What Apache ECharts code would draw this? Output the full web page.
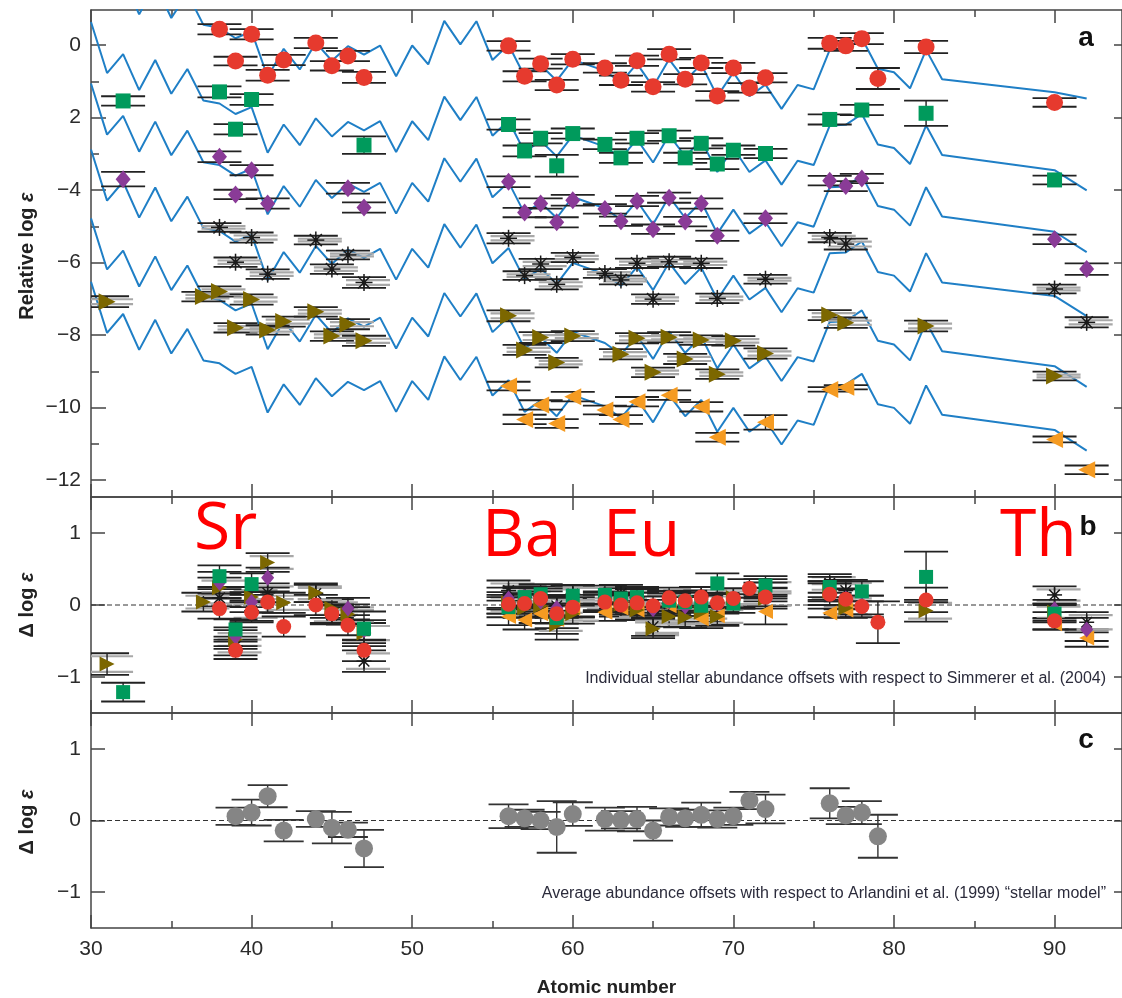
<!DOCTYPE html>
<html><head><meta charset="utf-8">
<script src="https://cdn.jsdelivr.net/npm/echarts@6/dist/echarts.min.js"></script>
<style>html,body{margin:0;padding:0;background:#fff}#c{width:1122px;height:998px}</style>
</head><body><div id="c"></div><script>
// ---------- tick values ----------
const zMajor = [30,40,50,60,70,80,90];
const zMinor = [35,45,55,65,75,85];
const aMajor = [0,-2,-4,-6,-8,-10,-12];
const aMinor = [-1,-3,-5,-7,-9,-11];
const bcMajor = [-1,0,1];

// ---------- scaled solar r-process pattern (panel a lines) ----------
const patternZ   = [30,31,32,33,34,35,36,37,38,39,40,41,42,43,44,45,46,47,48,49,50,51,52,53,54,55,56,57,58,59,60,62,63,64,65,66,67,68,69,70,71,72,73,74,75,76,77,78,79,80,81,82,83];
const patternVal = [0.64,-0.77,-0.25,-1.24,-0.41,-1.34,-0.66,-1.53,-1.61,-1.90,-1.71,-2.97,-2.19,-2.76,-2.02,-2.52,-2.12,-2.35,-2.10,-2.95,-2.10,-2.62,-1.42,-2.07,-1.43,-2.50,-2.08,-2.95,-2.64,-3.07,-2.49,-2.80,-3.12,-2.60,-3.24,-2.48,-3.07,-2.62,-3.50,-2.84,-3.50,-3.18,-3.85,-3.19,-3.31,-2.22,-2.20,-1.90,-2.74,-2.84,-3.28,-2.22,-3.03];
const lineOffsets = [2.09, 0, -1.70, -3.52, -5.42, -7.17];
const thuZ = [90, 92];
const lineThU = [[-1.30,-1.47],[-3.45,-4.01],[-5.15,-5.71],[-6.92,-7.48],[-8.86,-9.43],[-10.62,-11.19]];

// ---------- panel a: [Z, relative log eps, error] ----------
const starRed = [[38,0.44,0.14],[39,-0.44,0.12],[40,0.30,0.14],[41,-0.83,0.15],[42,-0.41,0.14],[44,0.06,0.14],[45,-0.57,0.13],[46,-0.30,0.14],[47,-0.89,0.15],[56,-0.02,0.13],[57,-0.86,0.14],[58,-0.51,0.14],[59,-1.10,0.14],[60,-0.39,0.14],[62,-0.63,0.13],[63,-0.97,0.13],[64,-0.43,0.14],[65,-1.15,0.13],[66,-0.25,0.14],[67,-0.94,0.14],[68,-0.49,0.14],[69,-1.40,0.13],[70,-0.63,0.14],[71,-1.18,0.13],[72,-0.90,0.13],[76,0.05,0.15],[77,-0.02,0.14],[78,0.18,0.15],[79,-0.92,0.29],[82,-0.05,0.17],[90,-1.58,0.12]];
const starGreen = [[32,-1.54,0.13],[38,-1.29,0.15],[39,-2.32,0.14],[40,-1.50,0.15],[47,-2.76,0.24],[56,-2.19,0.14],[57,-2.92,0.15],[58,-2.57,0.14],[59,-3.33,0.30],[60,-2.44,0.14],[62,-2.74,0.13],[63,-3.11,0.14],[64,-2.57,0.14],[66,-2.50,0.14],[67,-3.11,0.14],[68,-2.71,0.14],[69,-3.28,0.14],[70,-2.90,0.13],[72,-2.99,0.13],[76,-2.05,0.14],[78,-1.79,0.14],[82,-1.88,0.35],[90,-3.72,0.12]];
const starPurple = [[32,-3.70,0.20],[38,-3.08,0.15],[39,-4.12,0.13],[40,-3.45,0.14],[41,-4.37,0.14],[46,-3.95,0.15],[47,-4.48,0.14],[56,-3.77,0.15],[57,-4.62,0.13],[58,-4.37,0.14],[59,-4.89,0.14],[60,-4.28,0.15],[62,-4.52,0.13],[63,-4.86,0.13],[64,-4.30,0.14],[65,-5.08,0.13],[66,-4.21,0.14],[67,-4.87,0.13],[68,-4.37,0.14],[69,-5.26,0.14],[72,-4.78,0.13],[76,-3.74,0.13],[77,-3.89,0.14],[78,-3.68,0.13],[90,-5.36,0.13],[92,-6.18,0.16]];
const starStar = [[38,-5.03,0.12],[39,-5.99,0.13],[40,-5.31,0.14],[41,-6.32,0.13],[44,-5.38,0.12],[45,-6.18,0.13],[46,-5.79,0.12],[47,-6.55,0.15],[56,-5.33,0.14],[57,-6.36,0.12],[58,-6.04,0.14],[59,-6.60,0.14],[60,-5.86,0.13],[62,-6.30,0.12],[63,-6.48,0.12],[64,-6.02,0.13],[65,-7.01,0.13],[66,-5.98,0.14],[68,-6.02,0.13],[69,-6.99,0.13],[72,-6.46,0.12],[76,-5.31,0.13],[77,-5.49,0.15],[90,-6.73,0.12],[92,-7.65,0.14]];
const starOlive = [[31,-7.08,0.15],[37,-6.94,0.13],[38,-6.80,0.14],[39,-7.80,0.13],[40,-7.02,0.14],[41,-7.86,0.13],[42,-7.63,0.14],[44,-7.36,0.13],[45,-8.03,0.13],[46,-7.70,0.14],[47,-8.16,0.14],[56,-7.47,0.15],[57,-8.41,0.14],[58,-8.07,0.15],[59,-8.76,0.13],[60,-8.03,0.14],[63,-8.53,0.14],[64,-8.09,0.14],[65,-9.03,0.13],[66,-8.06,0.14],[67,-8.66,0.14],[68,-8.14,0.13],[69,-9.08,0.13],[70,-8.16,0.13],[72,-8.51,0.14],[76,-7.45,0.14],[77,-7.66,0.14],[82,-7.75,0.15],[90,-9.13,0.12]];
const starOrange = [[56,-9.41,0.12],[57,-10.33,0.13],[58,-9.93,0.13],[59,-10.44,0.12],[60,-9.70,0.13],[62,-10.07,0.12],[63,-10.33,0.12],[64,-9.84,0.13],[66,-9.66,0.13],[68,-9.98,0.13],[69,-10.82,0.12],[72,-10.41,0.20],[76,-9.50,0.06],[77,-9.44,0.06],[90,-10.88,0.08],[92,-11.72,0.12]];

// ---------- panel b: [Z, delta log eps, error] ----------
const offRed = [[38,-0.05,0.14],[39,-0.63,0.12],[40,-0.10,0.14],[41,0.04,0.15],[42,-0.30,0.14],[44,0.00,0.14],[45,-0.12,0.13],[46,-0.28,0.14],[47,-0.63,0.15],[56,0.01,0.13],[57,0.02,0.14],[58,0.09,0.14],[59,-0.12,0.14],[60,-0.03,0.14],[62,0.04,0.13],[63,0.00,0.13],[64,0.03,0.14],[65,-0.01,0.13],[66,0.10,0.14],[67,0.06,0.14],[68,0.11,0.14],[69,0.03,0.13],[70,0.09,0.14],[71,0.23,0.13],[72,0.11,0.13],[76,0.15,0.15],[77,0.08,0.14],[78,-0.02,0.15],[79,-0.24,0.29],[82,0.07,0.17],[90,-0.22,0.12]];
const offGreen = [[32,-1.21,0.13],[38,0.40,0.15],[39,-0.34,0.14],[40,0.29,0.15],[47,-0.33,0.24],[56,-0.03,0.14],[57,0.11,0.15],[58,0.15,0.14],[59,-0.18,0.30],[60,0.13,0.14],[62,0.14,0.13],[63,0.09,0.14],[64,0.11,0.14],[66,0.06,0.14],[67,0.04,0.14],[68,-0.01,0.14],[69,0.30,0.14],[70,0.02,0.13],[72,0.27,0.13],[76,0.25,0.14],[78,0.19,0.14],[82,0.39,0.35],[90,-0.12,0.12]];
const offPurple = [[38,0.31,0.15],[39,-0.44,0.13],[40,0.04,0.14],[41,0.38,0.14],[46,-0.05,0.15],[47,-0.35,0.14],[56,0.09,0.15],[57,0.11,0.13],[58,0.05,0.14],[59,-0.04,0.14],[60,-0.01,0.15],[62,0.06,0.13],[63,0.04,0.13],[64,0.08,0.14],[65,-0.06,0.13],[66,0.05,0.14],[67,-0.02,0.13],[68,0.03,0.14],[69,0.02,0.14],[72,0.18,0.13],[76,0.20,0.13],[77,0.09,0.14],[78,0.00,0.13],[90,-0.06,0.13],[92,-0.34,0.16]];
const offStar = [[38,0.10,0.12],[39,-0.57,0.13],[40,-0.08,0.14],[41,0.17,0.13],[44,0.16,0.12],[45,-0.14,0.13],[46,-0.15,0.12],[47,-0.78,0.15],[56,0.20,0.14],[57,0.11,0.12],[58,0.12,0.14],[59,-0.01,0.14],[60,0.15,0.13],[62,0.02,0.12],[63,0.16,0.12],[64,0.10,0.13],[65,-0.30,0.13],[66,0.02,0.14],[68,0.12,0.13],[69,0.03,0.13],[72,0.24,0.12],[76,0.30,0.13],[77,0.20,0.15],[90,0.14,0.12],[92,-0.24,0.14]];
const offOlive = [[31,-0.82,0.15],[37,0.04,0.13],[38,0.24,0.14],[39,-0.48,0.13],[40,0.11,0.14],[41,0.59,0.13],[42,0.03,0.14],[44,0.17,0.13],[45,-0.05,0.13],[46,-0.13,0.14],[47,-0.39,0.14],[56,0.03,0.15],[57,-0.04,0.14],[58,-0.01,0.15],[59,-0.27,0.13],[60,-0.12,0.14],[63,0.01,0.14],[64,-0.07,0.14],[65,-0.33,0.13],[66,-0.16,0.14],[67,-0.17,0.14],[68,-0.10,0.13],[69,-0.16,0.13],[70,0.10,0.13],[72,0.09,0.14],[76,0.19,0.14],[77,-0.04,0.14],[82,-0.08,0.15],[90,-0.10,0.12]];
const offOrange = [[56,-0.16,0.12],[57,-0.21,0.13],[58,-0.12,0.13],[59,-0.20,0.12],[60,-0.04,0.13],[62,-0.10,0.12],[63,-0.04,0.12],[64,-0.07,0.13],[66,-0.01,0.13],[68,-0.19,0.13],[69,-0.15,0.12],[72,-0.09,0.18],[76,-0.11,0.06],[77,-0.07,0.06],[90,-0.26,0.08],[92,-0.46,0.12]];

// ---------- panel c: [Z, average delta, error] ----------
const avgOffsets = [[39,0.06,0.12],[40,0.11,0.18],[41,0.34,0.155],[42,-0.14,0.15],[44,0.02,0.11],[45,-0.10,0.22],[46,-0.13,0.10],[47,-0.39,0.26],[56,0.06,0.165],[57,0.03,0.12],[58,0.00,0.12],[59,-0.09,0.36],[60,0.09,0.165],[62,0.02,0.16],[63,0.01,0.12],[64,0.02,0.17],[65,-0.14,0.14],[66,0.05,0.12],[67,0.03,0.12],[68,0.08,0.17],[69,0.02,0.12],[70,0.06,0.12],[71,0.28,0.12],[72,0.16,0.20],[76,0.24,0.21],[77,0.07,0.12],[78,0.11,0.16],[79,-0.22,0.30]];

// ---------- styling ----------
const X_MIN = 30, X_MAX = 94.2;
const FONT = 'Liberation Sans';
const AX = '#444';
const BLUE = '#1f7fc6';
const stars = [
  {a: starRed,    b: offRed,    color:'#e63a2e', symbol:'circle', sa:17, sb:15},
  {a: starGreen,  b: offGreen,  color:'#009a5c', symbol:'rect', sa:15, sb:14},
  {a: starPurple, b: offPurple, color:'#8a3b97', symbol:'diamond', sa:[15,18], sb:[13,16]},
  {a: starStar,   b: offStar,   color:'#1a1a1a', symbol:'asterisk', sa:17, sb:15, gray:true},
  {a: starOlive,  b: offOlive,  color:'#7c6700', symbol:'path://M0,0L10,5L0,10Z', sa:17, sb:15, gray:true},
  {a: starOrange, b: offOrange, color:'#f59b22', symbol:'path://M10,0L0,5L10,10Z', sa:17, sb:15}
];

const grids = [
  {left:91, top:10, width:1033, height:487},
  {left:91, top:497, width:1033, height:216},
  {left:91, top:713, width:1033, height:216}
];
const yRanges = [[-12.47,0.97],[-1.5,1.5],[-1.5,1.5]];

const xAxes = [], yAxes = [];
function xAx(gi, pos, vals, len, line, labels) {
  return {type:'value', gridIndex:gi, position:pos, min:X_MIN, max:X_MAX,
    axisLine:{show:line, onZero:false, lineStyle:{color:AX, width:1.5}},
    axisTick:{show:true, inside:true, length:len, customValues:vals, lineStyle:{color:AX, width:1.5}},
    axisLabel: labels ? {show:true, customValues:vals, margin:11, fontSize:21, fontFamily:FONT, color:'#2a2a2a'} : {show:false},
    splitLine:{show:false}};
}
function yAx(gi, pos, vals, len, line, labels, fmt) {
  return {type:'value', gridIndex:gi, position:pos, min:yRanges[gi][0], max:yRanges[gi][1],
    axisLine:{show:line, onZero:false, lineStyle:{color:AX, width:1.5}},
    axisTick:{show: vals.length>0, inside:true, length:len, customValues:vals, lineStyle:{color:AX, width:1.5}},
    axisLabel: labels ? {show:true, customValues:vals, margin:10, fontSize:21, fontFamily:FONT, color:'#2a2a2a', formatter:fmt} : {show:false},
    splitLine:{show:false}};
}
const fmtA = v => v === 0 ? '0' : (v === -2 ? '2' : '\u2212' + Math.abs(v));
const fmtB = v => v < 0 ? '\u2212' + Math.abs(v) : String(v);
for (let gi = 0; gi < 3; gi++) {
  xAxes.push(xAx(gi,'bottom',zMajor,13,true,gi===2));
  xAxes.push(xAx(gi,'bottom',zMinor,7,false,false));
  xAxes.push(xAx(gi,'top',zMajor,13,true,false));
  xAxes.push(xAx(gi,'top',zMinor,7,false,false));
  if (gi === 0) {
    yAxes.push(yAx(0,'left',aMajor,15,true,true,fmtA));
    yAxes.push(yAx(0,'left',aMinor,8,false,false));
    yAxes.push(yAx(0,'right',aMajor,8,true,false));
  } else {
    yAxes.push(yAx(gi,'left',bcMajor,14,true,true,fmtB));
    yAxes.push(yAx(gi,'left',[],8,false,false));
    yAxes.push(yAx(gi,'right',bcMajor,8,true,false));
  }
}
xAxes[8].name = 'Atomic number';
xAxes[8].nameLocation = 'middle';
xAxes[8].nameGap = 50;
xAxes[8].nameTextStyle = {fontSize:19, fontWeight:'bold', fontFamily:FONT, color:'#222'};

function errSeries(data, gi, capHalf, color, gray, z) {
  return {type:'custom', xAxisIndex:gi*4, yAxisIndex:gi*3, data:data, clip:true, z:z, silent:true,
    encode:{x:0, y:1},
    renderItem:function(params, api){
      const x = api.value(0), y = api.value(1), e = api.value(2);
      const c = api.coord([x,y]), t = api.coord([x,y+e]), b = api.coord([x,y-e]);
      const ch = [];
      if (gray) {
        const s = {stroke:'#a8a8a8', lineWidth:2.2};
        ch.push({type:'line', shape:{x1:c[0]-capHalf+4, y1:t[1]+3, x2:c[0]+capHalf+4, y2:t[1]+3}, style:s});
        ch.push({type:'line', shape:{x1:c[0]-capHalf+4, y1:b[1]-3, x2:c[0]+capHalf+4, y2:b[1]-3}, style:s});
      }
      const k = {stroke:color, lineWidth:1.8};
      ch.push({type:'line', shape:{x1:c[0], y1:t[1], x2:c[0], y2:b[1]}, style:{stroke:color, lineWidth:1.4}});
      ch.push({type:'line', shape:{x1:c[0]-capHalf, y1:t[1], x2:c[0]+capHalf, y2:t[1]}, style:k});
      ch.push({type:'line', shape:{x1:c[0]-capHalf, y1:b[1], x2:c[0]+capHalf, y2:b[1]}, style:k});
      return {type:'group', children:ch};
    }};
}
function asteriskSeries(data, gi, r, z) {
  return {type:'custom', xAxisIndex:gi*4, yAxisIndex:gi*3, data:data, clip:true, z:z, silent:true,
    encode:{x:0, y:1},
    renderItem:function(params, api){
      const c = api.coord([api.value(0), api.value(1)]);
      const ch = [];
      const d = r*0.7071;
      const segs = [[r,0],[0,r],[d,d],[d,-d]];
      segs.forEach(function(s){
        ch.push({type:'line', shape:{x1:c[0]-s[0], y1:c[1]-s[1], x2:c[0]+s[0], y2:c[1]+s[1]}, style:{stroke:'#1a1a1a', lineWidth:1.5}});
      });
      ch.push({type:'circle', shape:{cx:c[0], cy:c[1], r:2.2}, style:{fill:'#1a1a1a'}});
      return {type:'group', children:ch};
    }};
}
function markerSeries(data, gi, st, size, z) {
  if (st.symbol === 'asterisk') return asteriskSeries(data, gi, size/2, z);
  return {type:'scatter', xAxisIndex:gi*4, yAxisIndex:gi*3, data:data, symbol:st.symbol, symbolSize:size,
    symbolKeepAspect:true, itemStyle:{color:st.color, opacity:1}, z:z, silent:true, clip:true};
}

const series = [];
// panel a: model lines
lineOffsets.forEach(function(off, k){
  const pts = patternZ.map(function(z, i){ return [z, +(patternVal[i] + off).toFixed(2)]; });
  pts.push([thuZ[0], lineThU[k][0]], [thuZ[1], lineThU[k][1]]);
  series.push({type:'line', xAxisIndex:0, yAxisIndex:0, data:pts, showSymbol:false, clip:true, silent:true,
    lineStyle:{color:BLUE, width:2}, z:2});
});
// panel a: stars
stars.forEach(function(st){ series.push(errSeries(st.a, 0, 22, '#222', st.gray, 3)); });
stars.forEach(function(st){ series.push(markerSeries(st.a, 0, st, st.sa, 4)); });
// panel b zero line
series.push({type:'line', xAxisIndex:4, yAxisIndex:3, data:[[X_MIN,0],[X_MAX,0]], showSymbol:false, silent:true,
  lineStyle:{color:'#333', width:1, type:[5,3]}, z:2});
// panel b: draw back to front (orange ... red)
for (let i = stars.length-1; i >= 0; i--) {
  const st = stars[i];
  series.push(errSeries(st.b, 1, 22, '#222', st.gray, 3));
  series.push(markerSeries(st.b, 1, st, st.sb, 4));
}
// panel c
series.push({type:'line', xAxisIndex:8, yAxisIndex:6, data:[[X_MIN,0],[X_MAX,0]], showSymbol:false, silent:true,
  lineStyle:{color:'#333', width:1, type:[5,3]}, z:2});
series.push(errSeries(avgOffsets, 2, 20, '#333', false, 3));
series.push({type:'scatter', xAxisIndex:8, yAxisIndex:6, data:avgOffsets, symbol:'circle', symbolSize:18,
  itemStyle:{color:'#858585', opacity:1}, z:4, silent:true});

const bigRed = {fontFamily:'Open Sans', fontSize:66, fill:'#ff0000'};
const graphic = [
  {type:'text', x:27, y:256, rotation:Math.PI/2, style:{text:'{b|Relative log }{e|\u03b5}', align:'center', verticalAlign:'middle',
    rich:{b:{fontFamily:FONT, fontWeight:'bold', fontSize:20, fill:'#222'}, e:{fontFamily:FONT, fontWeight:'bold', fontStyle:'italic', fontSize:20, fill:'#222'}}}},
  {type:'text', x:27, y:605, rotation:Math.PI/2, style:{text:'{b|\u0394 log }{e|\u03b5}', align:'center', verticalAlign:'middle',
    rich:{b:{fontFamily:FONT, fontWeight:'bold', fontSize:20, fill:'#222'}, e:{fontFamily:FONT, fontWeight:'bold', fontStyle:'italic', fontSize:20, fill:'#222'}}}},
  {type:'text', x:27, y:822, rotation:Math.PI/2, style:{text:'{b|\u0394 log }{e|\u03b5}', align:'center', verticalAlign:'middle',
    rich:{b:{fontFamily:FONT, fontWeight:'bold', fontSize:20, fill:'#222'}, e:{fontFamily:FONT, fontWeight:'bold', fontStyle:'italic', fontSize:20, fill:'#222'}}}},
  {type:'text', x:1086, y:38, style:{text:'a', font:'bold 28px "Liberation Sans"', fill:'#111', align:'center', verticalAlign:'middle'}},
  {type:'text', x:1088, y:527, style:{text:'b', font:'bold 28px "Liberation Sans"', fill:'#111', align:'center', verticalAlign:'middle'}},
  {type:'text', x:1086, y:740, style:{text:'c', font:'bold 28px "Liberation Sans"', fill:'#111', align:'center', verticalAlign:'middle'}},
  {type:'text', x:1106, y:679, style:{text:'Individual stellar abundance offsets with respect to Simmerer et al. (2004)', font:'16px "Liberation Sans"', fill:'#2b2b3b', align:'right', verticalAlign:'middle'}},
  {type:'text', x:1106, y:894, style:{text:'Average abundance offsets with respect to Arlandini et al. (1999) \u201cstellar model\u201d', font:'16px "Liberation Sans"', fill:'#2b2b3b', align:'right', verticalAlign:'middle'}},
  {type:'text', x:194, y:530, style:Object.assign({text:'Sr', align:'left', verticalAlign:'middle'}, bigRed)},
  {type:'text', x:482, y:537, style:Object.assign({text:'Ba', align:'left', verticalAlign:'middle'}, bigRed)},
  {type:'text', x:603, y:537, style:Object.assign({text:'Eu', align:'left', verticalAlign:'middle'}, bigRed)},
  {type:'text', x:1000, y:537, style:Object.assign({text:'Th', align:'left', verticalAlign:'middle'}, bigRed)}
];

const chart = echarts.init(document.getElementById('c'), null, {renderer:'canvas'});
chart.setOption({
  animation:false,
  backgroundColor:'#fff',
  grid:grids,
  xAxis:xAxes,
  yAxis:yAxes,
  series:series,
  graphic:graphic
});
</script></body></html>
